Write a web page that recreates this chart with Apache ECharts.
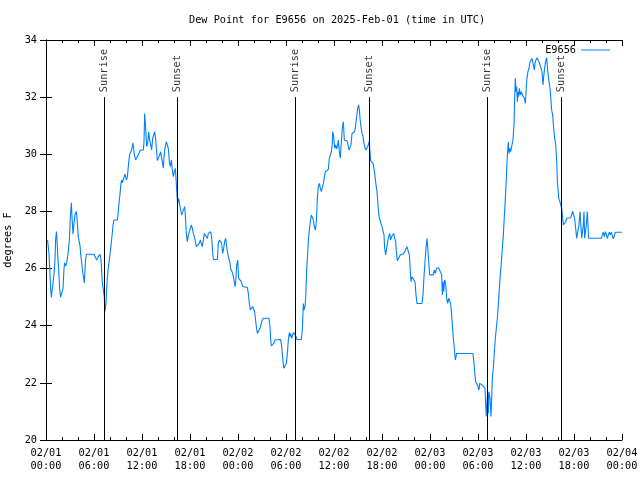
<!DOCTYPE html>
<html>
<head>
<meta charset="utf-8">
<script src="https://cdn.jsdelivr.net/npm/echarts@6/dist/echarts.min.js"></script>
<style>html,body{margin:0;padding:0;background:#fff}#c{width:640px;height:480px}</style>
</head>
<body>
<div id="c"></div>
<script>
const chartTitle = 'Dew Point for E9656 on 2025-Feb-01 (time in UTC)';
const seriesName = 'E9656';
const yName = 'degrees F';
const dateLabels = ['02/01','02/01','02/01','02/01','02/02','02/02','02/02','02/02','02/03','02/03','02/03','02/03','02/04'];
const timeLabels = ['00:00','06:00','12:00','18:00','00:00','06:00','12:00','18:00','00:00','06:00','12:00','18:00','00:00'];
// hours since 02/01 00:00 UTC
const sunEvents = [7.31, 16.44, 31.19, 40.44, 55.19, 64.44];
const sunLabels = ['Sunrise','Sunset','Sunrise','Sunset','Sunrise','Sunset'];
// [hour, dew point °F]
const dewPoint = [
[0.2,27.0],[0.375,26.5],[0.5,25.8],[0.58,25.3],[0.67,25.0],[0.75,25.2],[0.875,25.5],[1.0,25.8],[1.125,26.3],[1.2,27.0],[1.3,27.3],[1.375,27.0],[1.5,26.3],[1.58,26.0],[1.7,25.3],[1.83,25.0],[2.08,25.0],[2.125,25.3],[2.25,26.0],[2.33,26.2],[2.46,26.1],[2.58,26.2],[2.75,26.5],[2.92,27.0],[3.04,27.8],[3.17,28.3],[3.25,27.8],[3.375,27.2],[3.5,27.6],[3.625,27.9],[3.79,28.0],[3.92,27.6],[4.04,27.1],[4.25,26.8],[4.375,26.4],[4.625,25.8],[4.79,25.5],[4.92,26.2],[5.04,26.5],[6.0,26.5],[6.17,26.4],[6.33,26.3],[6.5,26.4],[6.75,26.5],[6.875,26.3],[7.04,25.5],[7.25,25.5],[7.29,25.0],[7.375,24.5],[7.5,24.8],[7.625,25.5],[7.75,25.95],[7.92,26.3],[8.04,26.6],[8.2,27.0],[8.375,27.5],[8.5,27.7],[8.92,27.7],[9.0,27.9],[9.125,28.3],[9.25,28.6],[9.375,29.0],[9.46,29.1],[9.54,29.0],[9.7,29.15],[9.875,29.3],[10.04,29.1],[10.17,29.2],[10.33,29.7],[10.46,30.0],[10.7,30.15],[10.875,30.4],[11.04,30.0],[11.2,29.8],[11.42,29.8],[11.58,30.0],[11.79,30.15],[12.17,30.15],
[12.25,30.44],[12.33,31.43],[12.42,31.08],[12.5,30.68],[12.58,30.27],[12.71,30.38],[12.83,30.79],[12.96,30.5],[13.08,30.33],[13.21,30.15],[13.33,30.56],[13.46,30.68],[13.58,30.79],[13.71,30.5],[13.83,30.09],[13.92,29.78],[14.08,29.78],[14.21,29.98],[14.33,30.09],[14.42,29.92],[14.54,29.74],[14.67,29.51],[14.75,29.92],[14.875,30.21],[15.04,30.44],[15.17,30.5],[15.29,30.21],[15.42,29.74],[15.54,29.57],[15.67,29.8],[15.79,29.45],[15.92,29.22],[16.04,29.39],[16.17,29.51],[16.25,29.16],[16.375,28.58],[16.46,28.28],[16.58,28.46],[16.71,28.4],[16.83,28.05],[16.96,27.88],[17.08,27.93],[17.21,27.82],[17.33,28.17],[17.42,27.88],[17.54,27.23],[17.67,26.94],[17.79,27.18],[17.92,27.29],[18.04,27.41],[18.17,27.53],[18.29,27.41],[18.42,27.23],[18.54,27.12],[18.67,26.94],[18.79,26.77],[19.04,26.77],[19.17,26.88],[19.29,27.0],[19.42,26.88],[19.54,26.77],[19.67,27.0],[19.79,27.23],[19.92,27.29],[20.04,27.18],[20.17,27.06],[20.29,27.23],[20.42,27.29],[20.58,27.29],[20.71,27.06],[20.83,26.59],[20.92,26.32],[21.42,26.32],[21.54,26.88],[21.67,27.0],[21.83,27.0],[21.96,26.88],[22.08,26.53],[22.21,26.71],[22.33,26.94],[22.46,27.06],[22.58,26.77],[22.71,26.53],[22.875,26.48],[23.0,26.18],[23.08,26.0],[23.25,25.89],[23.375,25.78],[23.5,25.6],[23.625,25.37],[23.71,25.54],[23.83,26.12],[23.96,26.3],
[24.08,25.66],[24.25,25.62],[24.42,25.54],[24.58,25.37],[25.17,25.34],[25.29,25.13],[25.42,24.78],[25.54,24.55],[25.67,24.49],[25.83,24.67],[25.96,24.61],[26.08,24.49],[26.17,24.26],[26.29,23.97],[26.42,23.73],[26.625,23.76],[26.75,23.91],[26.875,24.05],[27.0,24.17],[27.17,24.26],[27.875,24.26],[28.0,23.97],[28.08,23.52],[28.17,23.29],[28.33,23.29],[28.46,23.38],[28.625,23.5],[28.79,23.52],[29.33,23.52],[29.46,23.27],[29.54,23.03],[29.625,22.77],[29.71,22.51],[29.96,22.51],[30.04,22.68],[30.17,23.03],[30.29,23.5],[30.42,23.76],[30.5,23.62],[30.58,23.73],[30.71,23.56],[30.83,23.68],[30.96,23.76],[31.08,23.76],[31.25,23.62],[31.375,23.52],[31.92,23.52],[32.04,23.85],[32.17,24.78],[32.25,24.55],[32.375,24.67],[32.46,24.96],[32.58,25.95],[32.71,26.53],[32.83,27.12],[32.96,27.18],[33.04,27.64],[33.17,27.88],[33.29,27.84],[33.42,27.7],[33.54,27.47],[33.67,27.35],[33.79,27.64],[33.92,28.46],[34.04,28.87],[34.17,28.98],[34.29,28.81],[34.42,28.69],[34.54,28.75],[34.67,28.98],[34.79,29.19],[34.92,29.39],[35.04,29.45],[35.17,29.36],[35.29,29.47],[35.42,29.86],[35.54,29.92],[35.67,30.09],[35.79,30.38],
[35.83,30.79],[35.96,30.62],[36.08,30.21],[36.21,30.33],[36.33,30.19],[36.46,30.33],[36.54,30.5],[36.67,30.09],[36.79,29.86],[36.92,30.44],[37.04,30.91],[37.17,31.14],[37.29,30.5],[37.42,30.5],[37.625,30.47],[37.75,30.33],[37.875,30.15],[38.0,30.15],[38.125,30.33],[38.25,30.73],[38.375,30.77],[38.58,30.79],[38.71,31.03],[38.83,31.32],[38.96,31.61],[39.08,31.73],[39.17,31.55],[39.25,31.26],[39.375,30.97],[39.5,30.73],[39.625,30.62],[39.75,30.38],[39.875,30.23],[40.0,30.15],[40.17,30.15],[40.29,30.33],[40.375,30.44],[40.5,30.09],[40.58,29.77],[40.75,29.72],[40.875,29.68],[41.0,29.51],[41.125,29.22],[41.25,28.93],[41.375,28.69],[41.5,28.23],[41.625,27.82],[41.75,27.7],[41.875,27.58],[42.0,27.47],[42.125,27.43],[42.25,27.18],[42.33,26.71],[42.46,26.48],[42.58,26.71],[42.71,26.94],[42.83,27.12],[42.96,27.23],[43.08,27.0],[43.21,27.12],[43.33,27.18],[43.46,27.23],[43.58,27.06],[43.71,26.94],[43.79,26.59],[43.92,26.27],[44.17,26.27],[44.29,26.48],[44.42,26.51],[44.67,26.51],[44.83,26.59],[45.0,26.69],[45.125,26.77],[45.29,26.77],[45.42,26.48],[45.54,25.89],[45.625,25.54],[45.75,25.71],[46.0,25.78],[46.125,25.54],[46.25,25.08],[46.375,24.78],[47.0,24.78],[47.125,25.08],[47.25,25.72],[47.375,26.24],[47.5,26.71],[47.625,27.06],[47.75,26.6],[47.875,26.1],[47.96,25.78],
[48.42,25.78],[48.54,25.95],[48.67,25.83],[48.79,26.0],[48.92,26.0],[49.08,26.03],[49.33,26.03],[49.46,25.78],[49.54,25.08],[49.625,25.54],[49.71,25.19],[49.83,25.6],[49.96,25.48],[50.08,24.96],[50.21,24.78],[50.33,24.96],[50.46,25.02],[50.58,24.78],[50.67,24.49],[50.79,24.03],[50.92,23.56],[51.04,23.21],[51.17,22.8],[51.33,23.03],[53.375,23.03],[53.5,22.68],[53.625,22.27],[53.71,22.04],[53.875,21.98],[54.0,21.87],[54.125,21.75],[54.21,21.98],[54.33,22.02],[54.5,21.93],[54.625,21.98],[54.75,21.87],[54.875,21.81],[54.96,21.23],[55.04,20.82],[55.125,21.34],[55.21,21.69],[55.29,20.93],[55.375,21.69],[55.5,21.46],[55.625,20.82],[55.71,21.46],[55.79,22.16],[55.92,22.51],[56.04,23.09],[56.17,23.56],[56.29,23.91],[56.42,24.26],[56.54,24.73],[56.67,25.31],[56.79,25.78],[56.92,26.24],[57.04,26.71],[57.17,27.18],[57.29,27.82],[57.42,28.46],[57.54,29.16],[57.67,29.98],[57.79,30.44],[57.875,30.03],[58.0,30.21],[58.08,30.09],[58.25,30.33],[58.375,30.5],[58.5,31.03],[58.58,31.96],[58.67,32.66],[58.75,32.19],[58.83,32.36],[58.92,31.84],[59.0,32.19],[59.08,32.02],[59.17,32.31],[59.29,32.08],[59.42,32.19],[59.54,32.08],[59.67,32.13],[59.79,31.96],[59.92,31.78],
[60.04,32.37],[60.125,32.66],[60.25,32.9],[60.375,33.01],[60.5,33.24],[60.625,33.3],[60.75,33.36],[60.875,33.38],[60.96,33.07],[61.04,32.95],[61.125,33.19],[61.25,33.3],[61.375,33.38],[61.5,33.38],[61.625,33.24],[61.75,33.13],[61.875,33.07],[62.0,32.9],[62.125,32.43],[62.21,32.72],[62.33,33.01],[62.42,33.19],[62.5,33.3],[62.58,33.38],[62.67,33.07],[62.75,32.83],[62.875,32.54],[63.0,32.31],[63.08,32.02],[63.21,31.55],[63.33,31.38],[63.46,30.91],[63.58,30.56],[63.71,30.33],[63.83,29.8],[63.92,29.04],[64.0,28.81],[64.08,28.46],[64.21,28.37],[64.33,28.25],[64.42,28.25],[64.5,28.05],[64.58,27.76],[64.67,27.53],[64.83,27.53],[64.96,27.64],[65.08,27.76],[65.58,27.78],[65.71,27.88],[65.83,28.0],[65.96,28.0],[66.08,27.76],[66.21,27.41],[66.33,27.06],[66.5,27.06],[66.62,27.53],[66.75,28.0],[66.85,28.0],[66.96,27.06],[67.08,27.06],[67.17,27.53],[67.25,28.0],[67.33,27.06],[67.46,27.06],[67.54,27.53],[67.67,28.0],[67.75,27.47],[67.83,27.06],[69.42,27.06],[69.54,27.18],[69.67,27.27],[69.79,27.12],[69.92,27.29],[70.04,27.18],[70.17,27.06],[70.29,27.18],[70.42,27.27],[70.54,27.18],[70.67,27.27],[70.79,27.15],[70.92,27.04],[71.04,27.15],[71.17,27.27],[71.42,27.27],[72.0,27.27]
];

const FONT = 'DejaVu Sans Mono';
const FS = 10.25;
const lineColor = '#0080ff';

const chart = echarts.init(document.getElementById('c'), null, {renderer: 'canvas'});
const axisLine = {show: true, lineStyle: {color: '#000', width: 1}};
const xCommon = {
  type: 'value', min: 0, max: 72, interval: 6,
  axisLine: axisLine,
  axisTick: {show: true, inside: true, length: 6, lineStyle: {color: '#000'}},
  minorTick: {show: true, splitNumber: 3, length: 3, lineStyle: {color: '#000'}},
  splitLine: {show: false}
};
const yCommon = {
  type: 'value', min: 20, max: 34, interval: 2,
  axisLine: axisLine,
  axisTick: {show: true, inside: true, length: 6, lineStyle: {color: '#000'}},
  splitLine: {show: false}
};

chart.setOption({
  animation: false,
  backgroundColor: '#fff',
  title: {
    text: chartTitle, left: 189, top: 15, padding: 0,
    textStyle: {fontFamily: FONT, fontSize: FS, fontWeight: 'normal', color: '#000'}
  },
  legend: {
    data: [seriesName], right: 30, top: 45, padding: 0,
    icon: 'rect', itemWidth: 29, itemHeight: 1, align: 'right',
    textStyle: {fontFamily: FONT, fontSize: FS, color: '#000'}
  },
  grid: {left: 46, right: 18, top: 40, bottom: 40, containLabel: false, outerBoundsMode: 'none'},
  xAxis: [
    Object.assign({}, xCommon, {
      position: 'bottom',
      axisLabel: {
        show: true, margin: 7, color: '#000', fontFamily: FONT, fontSize: FS, lineHeight: 13,
        formatter: function (v) { const i = Math.round(v / 6); return dateLabels[i] + '\n' + timeLabels[i]; }
      }
    }),
    Object.assign({}, xCommon, {position: 'top', axisLabel: {show: false}})
  ],
  yAxis: [
    Object.assign({}, yCommon, {
      position: 'left',
      name: yName, nameLocation: 'middle', nameGap: 29, nameRotate: 90,
      nameTextStyle: {fontFamily: FONT, fontSize: FS, color: '#000'},
      axisLabel: {show: true, margin: 9, color: '#000', fontFamily: FONT, fontSize: FS}
    }),
    Object.assign({}, yCommon, {position: 'right', axisLabel: {show: false}})
  ],
  series: [
    {
      name: seriesName, type: 'line', xAxisIndex: 0, yAxisIndex: 0,
      data: dewPoint, showSymbol: false, symbol: 'none',
      lineStyle: {color: lineColor, width: 1.1}, itemStyle: {color: lineColor},
      z: 3,
      markLine: {
        silent: true, symbol: ['none', 'none'], animation: false,
        lineStyle: {color: '#000', width: 1, type: 'solid'},
        label: {show: false},
        data: sunEvents.map(h => [{coord: [h, 20]}, {coord: [h, 32]}])
      }
    },
    {
      name: 'sun', type: 'scatter', xAxisIndex: 0, yAxisIndex: 0,
      symbolSize: 0, silent: true,
      data: sunEvents.map((h, i) => ({value: [h, 32], name: sunLabels[i]})),
      label: {
        show: true, formatter: '{b}', position: 'top', distance: 5, rotate: 90,
        align: 'left', verticalAlign: 'middle',
        fontFamily: FONT, fontSize: FS, color: '#000'
      }
    }
  ]
});
</script>
</body>
</html>
